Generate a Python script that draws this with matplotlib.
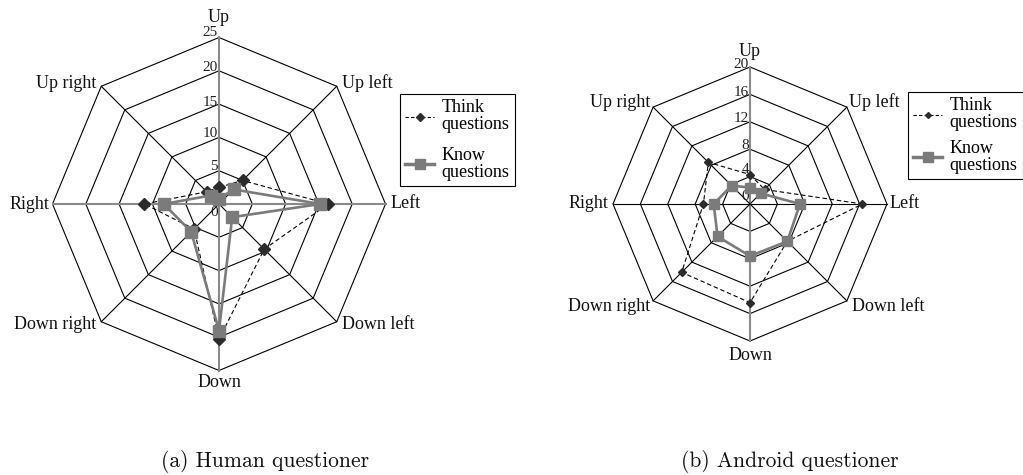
import numpy as np
import matplotlib
matplotlib.use("Agg")
import matplotlib.pyplot as plt
from matplotlib.lines import Line2D

# ---------------- data ----------------
categories = ["Up", "Up left", "Left", "Down left", "Down", "Down right", "Right", "Up right"]

human_think = [2.5, 5.0, 16.4, 9.6, 20.3, 5.3, 11.2, 2.6]
human_know = [0.8, 3.1, 15.2, 2.8, 19.0, 5.9, 8.3, 1.8]
human_ticks = [0, 5, 10, 15, 20, 25]

android_think = [4.3, 3.0, 16.4, 7.7, 14.4, 14.1, 6.8, 8.6]
android_know = [2.4, 2.2, 7.3, 7.7, 7.6, 6.7, 5.3, 3.8]
android_ticks = [0, 4, 8, 12, 16, 20]

series_labels = ["Think\nquestions", "Know\nquestions"]
captions = ["(a) Human questioner", "(b) Android questioner"]

# ---------------- style ----------------
SERIF = ["Liberation Serif", "DejaVu Serif"]
plt.rcParams["font.family"] = SERIF
THINK_C = "#2b2b2b"
KNOW_C = "#7b7b7b"
SPOKE_GRAY = "#8a8a8a"

W, H = 1023, 475
fig = plt.figure(figsize=(W / 100, H / 100), dpi=100)

angles = np.deg2rad(np.arange(len(categories)) * 45.0)


def make_ax(cx, cy, rmax_px, vmax, hw=230, hh=200):
    s = rmax_px / vmax
    ax = fig.add_axes([(cx - hw) / W, (H - (cy + hh)) / H, 2 * hw / W, 2 * hh / H])
    ax.set_xlim(-hw / s, hw / s)
    ax.set_ylim(-hh / s, hh / s)
    ax.axis("off")
    return ax


def closed(vals):
    v = np.asarray(vals, dtype=float)
    x = v * np.sin(angles)
    y = v * np.cos(angles)
    return np.append(x, x[0]), np.append(y, y[0])


def radar(ax, ticks, think, know, think_ms, know_ms, know_lw, horiz_gray,
          tick_offsets, label_offsets):
    vmax = ticks[-1]
    # rings
    for t in ticks[1:]:
        xs, ys = closed([t] * len(categories))
        ax.plot(xs, ys, color="black", lw=0.8, zorder=1)
    # spokes
    for i, a in enumerate(angles):
        gray = (i % 4 == 0) or (horiz_gray and i % 4 == 2)
        ax.plot([0, vmax * np.sin(a)], [0, vmax * np.cos(a)],
                color=SPOKE_GRAY if gray else "black",
                lw=1.5 if gray else 0.8, zorder=1)
    # series
    xs, ys = closed(think)
    ax.plot(xs, ys, color="black", lw=0.8, ls=(0, (4, 2.5)), zorder=3)
    ax.plot(xs[:-1], ys[:-1], ls="none", marker="D", ms=think_ms,
            color=THINK_C, zorder=4)
    xs, ys = closed(know)
    ax.plot(xs, ys, color=KNOW_C, lw=know_lw, zorder=5,
            marker="s", ms=know_ms, markevery=list(range(len(categories))))
    # tick labels
    for t, dy in zip(ticks, tick_offsets):
        ax.annotate(str(t), (0, t), xytext=(-1, dy), textcoords="offset pixels",
                    ha="right", va="center", fontsize=11, color="#222222",
                    family=SERIF)
    # category labels
    for cat, a, (dx, dy, ha) in zip(categories, angles, label_offsets):
        ax.annotate(cat, (vmax * np.sin(a), vmax * np.cos(a)), xytext=(dx, dy),
                    textcoords="offset pixels", ha=ha, va="center",
                    fontsize=13, color="#111111", family=SERIF)


ax1 = make_ax(219, 204, 166.5, human_ticks[-1])
radar(ax1, human_ticks, human_think, human_know, think_ms=6.5, know_ms=8,
      know_lw=1.9, horiz_gray=True,
      tick_offsets=[-8, 4, 4, 2, 3, 5],
      label_offsets=[(0, 20, "center"), (5, 3, "left"), (5, 0, "left"),
                     (5, -3, "left"), (0, -12, "center"), (-5, -3, "right"),
                     (-3, 0, "right"), (-5, 3, "right")])

ax2 = make_ax(750, 204, 137, android_ticks[-1])
radar(ax2, android_ticks, android_think, android_know, think_ms=4, know_ms=7,
      know_lw=1.9, horiz_gray=False,
      tick_offsets=[7, 7, 4, 3, 2, 2],
      label_offsets=[(0, 15, "center"), (2, 5, "left"), (3, 0, "left"),
                     (5, -6, "left"), (0, -14, "center"), (-3, -6, "right"),
                     (-5, 0, "right"), (-3, 5, "right")])


def add_legend(x_px, y_px, think_ms, know_ms, spacing):
    handles = [
        Line2D([], [], color="black", lw=0.8, ls=(0, (3, 2)), marker="D",
               ms=think_ms, markerfacecolor=THINK_C, markeredgecolor=THINK_C),
        Line2D([], [], color=KNOW_C, lw=2.5, marker="s", ms=know_ms),
    ]
    leg = fig.legend(handles, series_labels, loc="upper left",
                     bbox_to_anchor=(x_px / W, 1 - y_px / H),
                     bbox_transform=fig.transFigure, borderaxespad=0,
                     frameon=True, fancybox=False,
                     edgecolor="black", framealpha=1, handlelength=1.6,
                     handletextpad=0.4, labelspacing=spacing, borderpad=0.3,
                     prop={"family": SERIF, "size": 13})
    leg.get_frame().set_linewidth(0.8)
    for t in leg.get_texts():
        t.set_linespacing(1.0)
    return leg


add_legend(400, 94, 4, 7, 0.75)
add_legend(908, 92, 3, 7, 0.45)

for cap, cx in zip(captions, [265, 790]):
    fig.text(cx / W, 1 - 467 / H, cap, ha="center", va="baseline",
             fontsize=15.5, family="cmr10", color="#111111")

fig.savefig("out.png", dpi=100)
